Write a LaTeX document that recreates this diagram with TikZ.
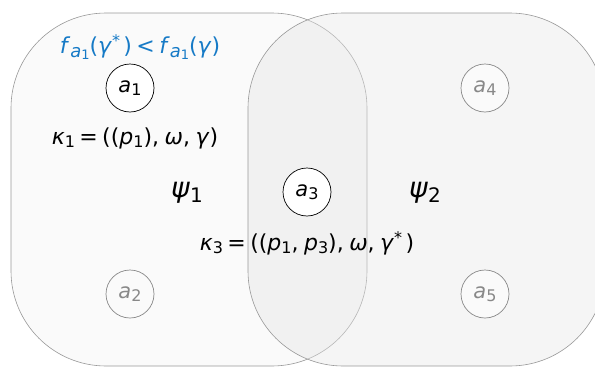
\documentclass[tikz,border=0pt]{standalone}
\usepackage{fontspec}
\setmainfont{DejaVu Sans}
\definecolor{fblue}{RGB}{22,122,198}
\definecolor{lgray}{RGB}{136,136,136}
\newcommand\mi[1]{\textit{#1}}
\newcommand\sbs[1]{\raisebox{-0.3ex}{\fontsize{16}{17}\selectfont #1}}
\newcommand\fsbs[1]{\raisebox{-0.3ex}{\fontsize{18}{19}\selectfont #1}}
\newcommand\ssbs[1]{\raisebox{-0.2ex}{\fontsize{13}{14}\selectfont #1}}
\newcommand\sps{\raisebox{0.6ex}{\fontsize{16}{17}\selectfont *}\hspace{0.15em}}
\newcommand\meq{\hspace{0.2em}=\hspace{0.2em}}
\newcommand\mlt{\hspace{0.2em}<\hspace{0.2em}}
\newcommand\mc{,\hspace{0.25em}}
\tikzset{
  region/.style={draw=black!40, line width=0.6pt, rounded corners=95pt},
  agentA/.style={circle, draw=black, line width=0.7pt, fill=white, minimum size=48pt, inner sep=0pt, font=\fontsize{21}{24}\selectfont},
  agentB/.style={circle, draw=lgray, line width=0.7pt, fill=white!98!black, minimum size=48pt, inner sep=0pt, text=lgray, font=\fontsize{21}{24}\selectfont},
  lab/.style={inner sep=0pt, font=\fontsize{22}{24}\selectfont},
  big/.style={inner sep=0pt, font=\fontsize{28}{30}\selectfont}
}
\begin{document}
\begin{tikzpicture}[x=1pt,y=-1pt]
\useasboundingbox (0,0) rectangle (595,367);
\clip (0,0) rectangle (595,367);
\draw[region, fill=white!98!black] (11,13) rectangle (367,366);
\draw[region, fill=black!10, fill opacity=0.4] (248,13) rectangle (605,366);
\node[agentA] (a1) at (130,88) {\mi{a}\sbs{1}};
\node[agentB] (a2) at (130,294) {\mi{a}\sbs{2}};
\node[agentA] (a3) at (307,192) {\mi{a}\sbs{3}};
\node[agentB] (a4) at (485,88) {\mi{a}\sbs{4}};
\node[agentB] (a5) at (485,294) {\mi{a}\sbs{5}};
\node[lab, text=fblue] (f) at (140,47) {\mi{f}\fsbs{\mi{a}\ssbs{1}}(\mi{γ}\sps)\mlt\mi{f}\fsbs{\mi{a}\ssbs{1}}(\mi{γ})};
\node[lab] (k1) at (135,138) {\mi{κ}\sbs{1}\meq((\mi{p}\sbs{1})\mc\mi{ω}\mc\mi{γ})};
\node[big] (p1) at (187,193) {\mi{ψ}\sbs{\fontsize{20}{21}\selectfont 1}};
\node[big] (p2) at (425,193) {\mi{ψ}\sbs{\fontsize{20}{21}\selectfont 2}};
\node[lab] (k3) at (307,243) {\mi{κ}\sbs{3}\meq((\mi{p}\sbs{1}\mc\mi{p}\sbs{3})\mc\mi{ω}\mc\mi{γ}\sps)};
\end{tikzpicture}
\end{document}
